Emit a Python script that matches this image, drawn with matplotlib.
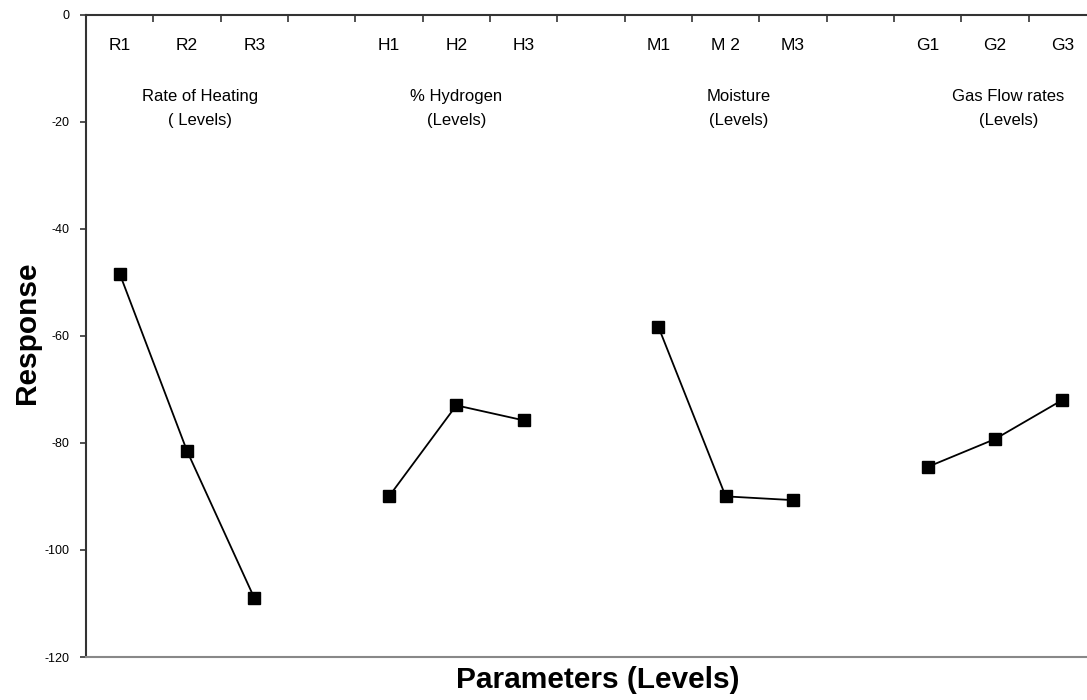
import matplotlib
matplotlib.use("Agg")
import matplotlib.pyplot as plt
import numpy as np

# Data
level_labels = ["R1", "R2", "R3", "H1", "H2", "H3", "M1", "M 2", "M3", "G1", "G2", "G3"]
group_names = ["Rate of Heating\n( Levels)", "% Hydrogen\n(Levels)", "Moisture\n(Levels)", "Gas Flow rates\n(Levels)"]
rate_heating = [-48.4, -81.5, -109.0]
hydrogen = [-90.0, -73.0, -75.8]
moisture = [-58.3, -90.0, -90.7]
gas_flow = [-84.5, -79.3, -72.0]
y_ticks = [0, -20, -40, -60, -80, -100, -120]

series = [rate_heating, hydrogen, moisture, gas_flow]

plt.rcParams['font.family'] = ['Liberation Sans', 'DejaVu Sans']

fig = plt.figure(figsize=(10.87, 7.0), dpi=100)
W, H = 1087, 700
left, right, top, bottom = 86, 1096, 14.5, 657
ax = fig.add_axes([left / W, 1 - bottom / H, (right - left) / W, (bottom - top) / H])

ax.set_xlim(-0.5, 14.5)
ax.set_ylim(-120, 0)

for g, vals in enumerate(series):
    xs = np.arange(3) + 4 * g
    ax.plot(xs, vals, color='black', lw=1.3, marker='s', ms=8, mec='black', mfc='black', clip_on=False)
    for i, lab in enumerate(level_labels[3 * g:3 * g + 3]):
        ax.text(xs[i], -5.8, lab, ha='center', va='center', fontsize=12.5)
    ax.text(xs[1] + (0.2 if g != 1 else 0.0), -17.5, group_names[g], ha='center', va='center',
            fontsize=12, linespacing=1.75)

# spines
for s in ['top', 'left']:
    ax.spines[s].set_linewidth(1.5)
    ax.spines[s].set_color('#333333')
ax.spines['bottom'].set_color('#888888')
ax.spines['bottom'].set_linewidth(1.5)
ax.spines['right'].set_visible(False)

# x ticks: category boundaries on top, pointing down
ax.xaxis.tick_top()
ax.set_xticks(np.arange(0.5, 14.5, 1.0))
ax.set_xticklabels([])
ax.tick_params(axis='x', direction='in', length=5, width=1.2, color='#333333')

ax.set_yticks(y_ticks)
ax.set_yticklabels([str(v) for v in y_ticks], fontsize=9)
ax.tick_params(axis='y', direction='out', length=4, width=1.2, color='#333333', pad=8)

fig.text(598 / W, 1 - 680 / H, "Parameters (Levels)", ha='center', va='center',
         fontsize=21.5, fontweight='bold')
fig.text(27 / W, 1 - 333 / H, "Response", ha='center', va='center', rotation=90,
         fontsize=21.5, fontweight='bold')

fig.savefig("out.png", dpi=100)
